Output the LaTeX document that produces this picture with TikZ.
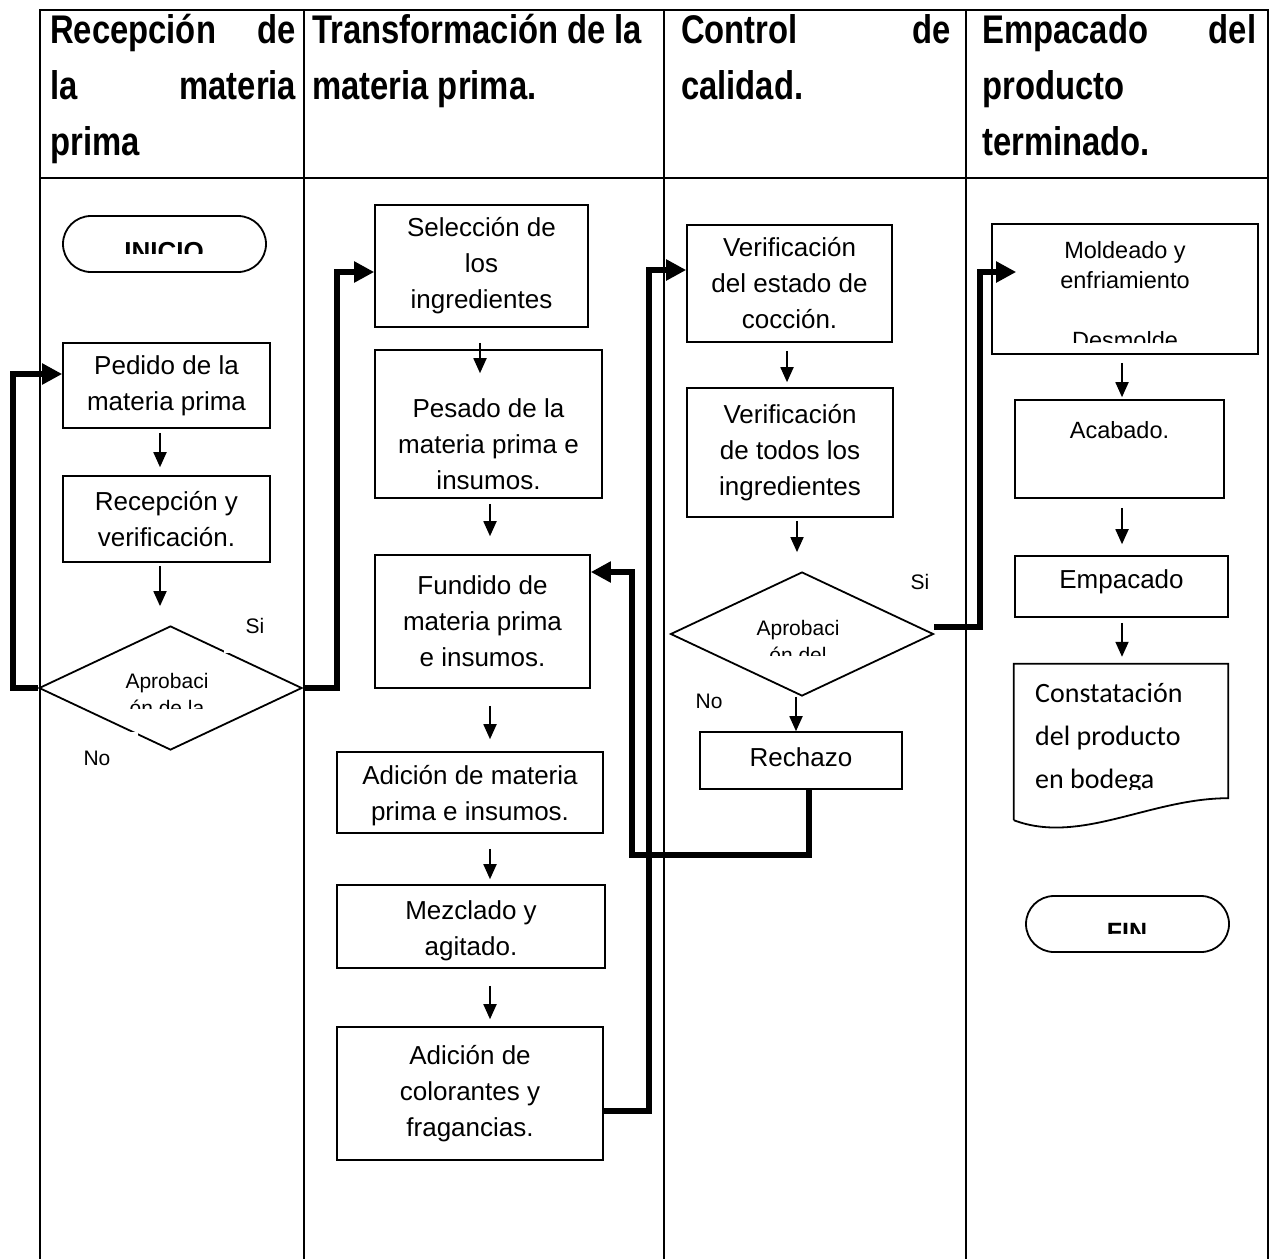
\documentclass[tikz,border=0pt]{standalone}
\usepackage{fontspec}
\setmainfont{Liberation Sans}
\newfontfamily\headfont[FakeStretch=0.82]{Liberation Sans}
\newfontfamily\docfont{Carlito}
\usetikzlibrary{arrows.meta,shapes.geometric,positioning}

\begin{document}
\begin{tikzpicture}[x=1pt,y=-1pt,
 tabla/.style={line width=2.4pt},
 cabeza/.style={anchor=north west,inner sep=0pt,align=left,font=\headfont\bfseries\fontsize{40}{56}\selectfont},
 texto/.style={align=center,inner sep=0pt,font=\fontsize{26}{36}\selectfont},
 caja/.style={texto,draw,line width=1.6pt},
 chica/.style={font=\fontsize{23.5}{30}\selectfont},
 term/.style={draw,line width=1.8pt,rounded corners=28pt,minimum width=203pt,minimum height=56pt},
 decision/.style={draw,diamond,line width=1.8pt,inner sep=0pt,minimum width=263pt,minimum height=124pt},
 rotulo/.style={fill=white,inner sep=0pt,font=\fontsize{21}{27}\selectfont},
 paso/.style={-{Triangle[length=15pt,width=13pt]},line width=1.8pt},
 flujo/.style={-{Triangle[length=20pt,width=20pt]},line width=6pt}]
\useasboundingbox (0,0) rectangle (1273,1259);
\draw[tabla] (40,1259) -- (40,10) -- (1268,10) -- (1268,1259);
\draw[tabla] (40,178) -- (1268,178);
\foreach \x in {304,664,966} \draw[tabla] (\x,10) -- (\x,1259);
\node[cabeza,text width=246pt] (h1) at (50,14) {Recepción\hfill de\\la\hfill materia\\prima};
\node[cabeza] (h2) at (312,14) {Transformación de la\\materia prima.};
\node[cabeza,text width=270pt] (h3) at (681,14) {Control\hfill de\\calidad.};
\node[cabeza,text width=274pt] (h4) at (982,14) {Empacado\hfill del\\producto\\terminado.};
% recepcion
\node[term] (ini) at (164.5,244) {};
\begin{scope}
\clip (63,216) rectangle (266,253);
\node[anchor=base,inner sep=0pt,font=\bfseries\fontsize{26}{30}\selectfont] (init) at (164,260.6) {INICIO};
\end{scope}
\node[caja,minimum width=207pt,minimum height=85pt] (ped) at (166.5,385.5) {Pedido de la\\materia prima};
\node[caja,minimum width=207pt,minimum height=86pt] (rec) at (166.5,519) {Recepción y\\verificación.};
\node[decision] (apr1) at (170.5,688) {};
\begin{scope}
\clip (110,660) rectangle (230,708);
\node[anchor=north,inner sep=0pt,align=center,font=\fontsize{21}{27}\selectfont] (apr1t) at (167,673) {Aprobaci\\ón de la};
\end{scope}
\node[rotulo,minimum width=62pt,minimum height=54pt] (si1) at (255,626) {Si};
\node[rotulo,minimum width=82pt,minimum height=52pt] (no1) at (97,758) {No};
\draw[paso,shorten <=4pt,shorten >=8pt] ([xshift=-6.5pt]ped.south) -- ([xshift=-6.5pt]ped.south |- rec.north);
\draw[paso,shorten <=3pt,shorten >=19pt] ([xshift=-6.5pt]rec.south) -- ([xshift=-6.5pt]rec.south |- apr1.north);
% transformacion
\node[caja,minimum width=213pt,minimum height=122pt] (sel) at (481.5,266) {Selección de\\los\\ingredientes};
\node[caja,minimum width=227pt,minimum height=148pt] (pes) at (488.5,424) {};
\node[texto] (pest) at (488.5,444) {Pesado de la\\materia prima e\\insumos.};
\node[caja,minimum width=215pt,minimum height=133pt] (fun) at (482.5,621.5) {Fundido de\\materia prima\\e insumos.};
\node[caja,minimum width=266pt,minimum height=81pt] (adi) at (470,792.5) {};
\node[texto] (adit) at (470,796) {Adición de materia\\prima e insumos.};
\node[caja,minimum width=268pt,minimum height=83pt] (mez) at (471,926.5) {};
\node[texto] (mezt) at (471,931) {Mezclado y\\agitado.};
\node[caja,minimum width=266pt,minimum height=133pt] (col) at (470,1093.5) {Adición de\\colorantes y\\fragancias.};
\draw[paso,shorten <=15pt] ([xshift=-1.5pt]sel.south) -- ([xshift=-1.5pt,yshift=-24pt]sel.south |- pes.north);
\draw[paso,shorten <=5pt,shorten >=18pt] ([xshift=1.5pt]pes.south) -- ([xshift=1.5pt]pes.south |- fun.north);
\draw[paso,shorten <=17pt,shorten >=12pt] ([xshift=7.5pt]fun.south) -- ([xshift=7.5pt]fun.south |- adi.north);
\draw[paso,shorten <=15pt,shorten >=5pt] ([xshift=20pt]adi.south) -- ([xshift=20pt]adi.south |- mez.north);
\draw[paso,shorten <=17pt,shorten >=7pt] ([xshift=19pt]mez.south) -- ([xshift=19pt]mez.south |- col.north);
% control
\node[caja,minimum width=205pt,minimum height=117pt] (ver1) at (789.5,283.5) {Verificación\\del estado de\\cocción.};
\node[caja,minimum width=206pt,minimum height=129pt] (ver2) at (790,452.5) {Verificación\\de todos los\\ingredientes};
\node[decision] (apr2) at (802,634) {};
\begin{scope}
\clip (740,605) rectangle (860,655);
\node[anchor=north,inner sep=0pt,align=center,font=\fontsize{21}{27}\selectfont] (apr2t) at (798,620) {Aprobaci\\ón del};
\end{scope}
\node[rotulo] (si2) at (920,582) {Si};
\node[rotulo] (no2) at (709,701) {No};
\node[caja,minimum width=202pt,minimum height=57pt] (rech) at (801,760.5) {};
\node[texto] (recht) at (801,757) {Rechazo};
\draw[paso,shorten <=8pt,shorten >=5pt] ([xshift=-2.5pt]ver1.south) -- ([xshift=-2.5pt]ver1.south |- ver2.north);
\draw[paso,shorten <=3pt,shorten >=19pt] ([xshift=7pt]ver2.south) -- ([xshift=7pt]ver2.south |- apr2.north);
\draw[paso] ([xshift=-6pt]apr2.south) -- ([xshift=-6pt]apr2.south |- rech.north);
% empacado
\node[caja,minimum width=266pt,minimum height=130pt] (mol) at (1125,289) {};
\begin{scope}
\clip (994,226) rectangle (1256,342);
\node[chica,anchor=north,inner sep=0pt,align=center] (molt) at (1125,241) {Moldeado y\\enfriamiento\\[30pt]Desmolde};
\end{scope}
\node[caja,minimum width=209pt,minimum height=98pt] (aca) at (1119.5,449) {};
\node[chica,inner sep=0pt] (acat) at (1119.5,430) {Acabado.};
\node[caja,minimum width=213pt,minimum height=61pt] (emp) at (1121.5,586.5) {};
\node[texto] (empt) at (1121.5,582) {Empacado};
\node[minimum width=214pt,minimum height=156pt,inner sep=0pt] (cons) at (1121,742) {};
\draw[line width=1.8pt] (cons.south west) -- (cons.north west) -- (cons.north east) -- ([yshift=22pt]cons.south east) .. controls +(-78,0) and +(66,25) .. (cons.south west);
\begin{scope}
\clip (1016,666) rectangle (1226,789);
\node[anchor=north west,inner sep=0pt,align=left,font=\docfont\fontsize{28}{43}\selectfont] (const) at (1035,683) {Constatación\\del producto\\en bodega};
\end{scope}
\node[term] (fin) at (1127.5,924) {};
\begin{scope}
\clip (1026,896) rectangle (1229,933);
\node[anchor=base,inner sep=0pt,font=\bfseries\fontsize{25}{30}\selectfont] (fint) at (1127,940) {FIN};
\end{scope}
\draw[paso,shorten <=8pt,shorten >=2pt] ([xshift=-3pt]mol.south) -- ([xshift=-3pt]mol.south |- aca.north);
\draw[paso,shorten <=9pt,shorten >=11pt] ([xshift=2.5pt]aca.south) -- ([xshift=2.5pt]aca.south |- emp.north);
\draw[paso,shorten <=5pt,shorten >=7pt] ([xshift=0.5pt]emp.south) -- ([xshift=0.5pt]emp.south |- cons.north);
% conectores
\coordinate (c1) at (13,374);
\coordinate (c2) at (337,272);
\coordinate (c3) at (649,270);
\coordinate (c4) at (980,272);
\coordinate (c5) at (632,855);
\draw[flujo] (apr1.west) -| (c1) -- (ped.west |- c1);
\draw[flujo] (apr1.east) -| (c2) -- (sel.west |- c2);
\draw[flujo] ([yshift=-17.5pt]col.east) -| (c3) -- (ver1.west |- c3);
\draw[flujo] ([yshift=7pt]apr2.east) -| (c4) -- ([xshift=25pt]mol.west |- c4);
\draw[flujo] ([xshift=8pt]rech.south) |- (c5) |- ([yshift=49.5pt]fun.east);
\end{tikzpicture}
\end{document}
